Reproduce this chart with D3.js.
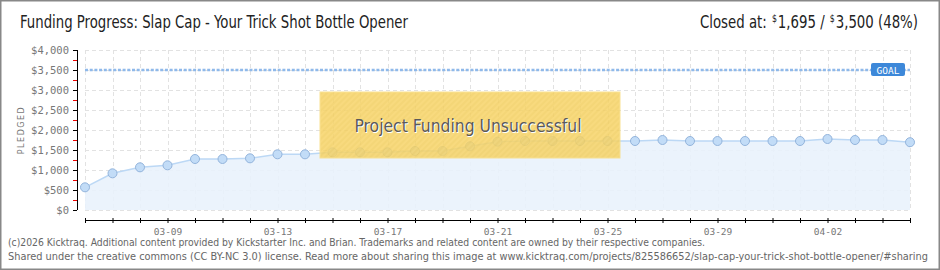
<!DOCTYPE html>
<html>
<head>
<meta charset="utf-8">
<script src="https://cdn.jsdelivr.net/npm/d3@7"></script>
<style>
  body { margin: 0; background: #fff; }
  svg { display: block; }
</style>
</head>
<body>
<svg id="chart"></svg>
<script>
// data
let dates = ["03-06","03-07","03-08","03-09","03-10","03-11","03-12","03-13","03-14","03-15",
             "03-16","03-17","03-18","03-19","03-20","03-21","03-22","03-23","03-24","03-25",
             "03-26","03-27","03-28","03-29","03-30","03-31","04-01","04-02","04-03","04-04","04-05"];
let pledged = [567, 917, 1067, 1117, 1275, 1275, 1292, 1392, 1392, 1442,
               1442, 1442, 1475, 1475, 1592, 1708, 1725, 1725, 1725, 1725,
               1725, 1750, 1725, 1725, 1725, 1725, 1725, 1775, 1750, 1750, 1695];
let labelDates = ["03-09","03-13","03-17","03-21","03-25","03-29","04-02"];
let yTicks = [0, 500, 1000, 1500, 2000, 2500, 3000, 3500, 4000];
let goal = 3500;

let width = 940;
let height = 270;
let narrow = "Liberation Sans Narrow, DejaVu Sans Condensed";

let svg = d3.select("#chart").attr("width", width).attr("height", height);

// frame
svg.append("rect").attr("x", 0.5).attr("y", 0.5).attr("width", width - 1).attr("height", height - 1)
    .attr("fill", "#fff").attr("stroke", "#888").attr("stroke-width", 2);

let xScale = d3.scalePoint().domain(dates).range([85, 910]);
let yScale = d3.scaleLinear().domain([0, 4000]).range([210, 50]);

// grid
let grid = svg.append("g").attr("stroke", "#e2e2e2").attr("stroke-dasharray", "4,3");
grid.selectAll(".hg").data(yTicks).enter().append("line")
    .attr("x1", 85).attr("x2", 910)
    .attr("y1", d => yScale(d) + 0.5).attr("y2", d => yScale(d) + 0.5);
grid.selectAll(".vg").data(dates).enter().append("line")
    .attr("x1", d => Math.round(xScale(d)) + 0.5).attr("x2", d => Math.round(xScale(d)) + 0.5)
    .attr("y1", 50).attr("y2", 210);

// area + line
let area = d3.area().x(d => xScale(d[0])).y0(yScale(0)).y1(d => yScale(d[1]));
let line = d3.line().x(d => xScale(d[0])).y(d => yScale(d[1]));
let pts = dates.map((d, i) => [d, pledged[i]]);
svg.append("path").datum(pts).attr("d", area).attr("fill", "#e9f2fc").attr("opacity", 0.9);
svg.append("path").datum(pts).attr("d", line).attr("fill", "none").attr("stroke", "#bcd8f5").attr("stroke-width", 1.5);

// goal line
svg.append("line").attr("x1", 85).attr("x2", 910)
    .attr("y1", yScale(goal)).attr("y2", yScale(goal))
    .attr("stroke", "#8fb9ea").attr("stroke-width", 2.5).attr("stroke-dasharray", "3,1.7");

// points
svg.selectAll(".pt").data(pts).enter().append("circle")
    .attr("cx", d => xScale(d[0])).attr("cy", d => yScale(d[1])).attr("r", 4.5)
    .attr("fill", "#c2dcf7").attr("stroke", "#93b4dc").attr("stroke-width", 1);

// goal badge
let gx = 871, gy = yScale(goal);
svg.append("rect").attr("x", gx).attr("y", gy - 7).attr("width", 34).attr("height", 13).attr("rx", 2)
    .attr("fill", "#3d88d9");
svg.append("text").attr("x", gx + 17).attr("y", gy + 3.5).attr("text-anchor", "middle")
    .attr("font-family", "DejaVu Sans Mono").attr("font-size", 9.5).attr("fill", "#fff").text("GOAL");

// y axis
let yAxis = d3.axisLeft(yScale).tickValues(yTicks).tickSize(4).tickFormat(d => "$" + d3.format(",")(d));
let ya = svg.append("g").attr("transform", "translate(77,0)").call(yAxis);
ya.select(".domain").attr("stroke", "#000").attr("d", "M0.5,50V210");
ya.selectAll(".tick line").attr("stroke", "#000");
ya.selectAll(".tick text").attr("x", -8).attr("fill", "#777")
    .attr("font-family", "DejaVu Sans Mono").attr("font-size", 10.5);
let minor = d3.range(250, 4000, 500);
ya.selectAll(".minor").data(minor).enter().append("line")
    .attr("x1", -4).attr("x2", 0).attr("y1", d => yScale(d) + 0.5).attr("y2", d => yScale(d) + 0.5)
    .attr("stroke", "#e00");

svg.append("text").attr("transform", "translate(24,130) rotate(-90)").attr("text-anchor", "middle")
    .attr("font-family", "DejaVu Sans").attr("font-size", 8).attr("letter-spacing", 1.5)
    .attr("fill", "#777").text("PLEDGED");

// x axis
let xAxis = d3.axisBottom(xScale).tickSize(4).tickFormat(d => labelDates.includes(d) ? d : "");
let xa = svg.append("g").attr("transform", "translate(0,220)").call(xAxis);
xa.select(".domain").attr("stroke", "#000").attr("d", "M85,0.5H910");
xa.selectAll(".tick line").attr("y1", -2).attr("y2", 3).attr("stroke", "#000");
xa.selectAll(".tick text").attr("y", 8).attr("fill", "#777")
    .attr("font-family", "DejaVu Sans Mono").attr("font-size", 9.5);

// unsuccessful overlay
let defs = svg.append("defs");
let pat = defs.append("pattern").attr("id", "stripes").attr("width", 4).attr("height", 4)
    .attr("patternUnits", "userSpaceOnUse").attr("patternTransform", "rotate(45)");
pat.append("rect").attr("width", 4).attr("height", 4).attr("fill", "#f7d468");
pat.append("rect").attr("width", 2).attr("height", 4).attr("fill", "#f3cf60");
svg.append("rect").attr("x", 320).attr("y", 92).attr("width", 300).attr("height", 66)
    .attr("fill", "url(#stripes)").attr("opacity", 0.85).attr("stroke", "#f9dd80").attr("stroke-width", 1);
svg.append("text").attr("x", 469).attr("y", 133).attr("text-anchor", "middle")
    .attr("font-family", narrow).attr("font-size", 18).attr("textLength", 227).attr("lengthAdjust", "spacingAndGlyphs")
    .attr("fill", "#fff").text("Project Funding Unsuccessful");
svg.append("text").attr("x", 468).attr("y", 132).attr("text-anchor", "middle")
    .attr("font-family", narrow).attr("font-size", 18).attr("textLength", 227).attr("lengthAdjust", "spacingAndGlyphs")
    .attr("fill", "#5a5a5a").text("Project Funding Unsuccessful");

// titles
svg.append("text").attr("x", 20).attr("y", 28)
    .attr("font-family", narrow).attr("font-size", 18)
    .attr("fill", "#222").attr("textLength", 388).attr("lengthAdjust", "spacingAndGlyphs")
    .text("Funding Progress: Slap Cap - Your Trick Shot Bottle Opener");

// "Closed at" built from separate pieces laid out left to right
let closedParts = [
    { t: "Closed at:", size: 17, dy: 0, gap: 6 },
    { t: "$", size: 10, dy: -6, gap: 1 },
    { t: "1,695 /", size: 17, dy: 0, gap: 6 },
    { t: "$", size: 10, dy: -6, gap: 1 },
    { t: "3,500 (48%)", size: 17, dy: 0, gap: 0 }
];
let cx = 0;
let closedG = svg.append("g");
closedParts.forEach(p => {
    let el = closedG.append("text").attr("x", cx).attr("y", 28 + p.dy)
        .attr("font-family", narrow).attr("font-size", p.size).attr("fill", "#222").text(p.t);
    cx += el.node().getComputedTextLength() + p.gap;
});
let sx = 218 / cx;
closedG.attr("transform", "translate(700,0) scale(" + sx + ",1)");

// footer
let foot = svg.append("g").attr("font-family", narrow)
    .attr("font-size", 10.5).attr("fill", "#666");
foot.append("text").attr("x", 8).attr("y", 246).attr("textLength", 697).attr("lengthAdjust", "spacingAndGlyphs")
    .text("(c)2026 Kicktraq. Additional content provided by Kickstarter Inc. and Brian. Trademarks and related content are owned by their respective companies.");
foot.append("text").attr("x", 8).attr("y", 260).attr("textLength", 920).attr("lengthAdjust", "spacingAndGlyphs")
    .text("Shared under the creative commons (CC BY-NC 3.0) license. Read more about sharing this image at www.kicktraq.com/projects/825586652/slap-cap-your-trick-shot-bottle-opener/#sharing");
</script>
</body>
</html>
